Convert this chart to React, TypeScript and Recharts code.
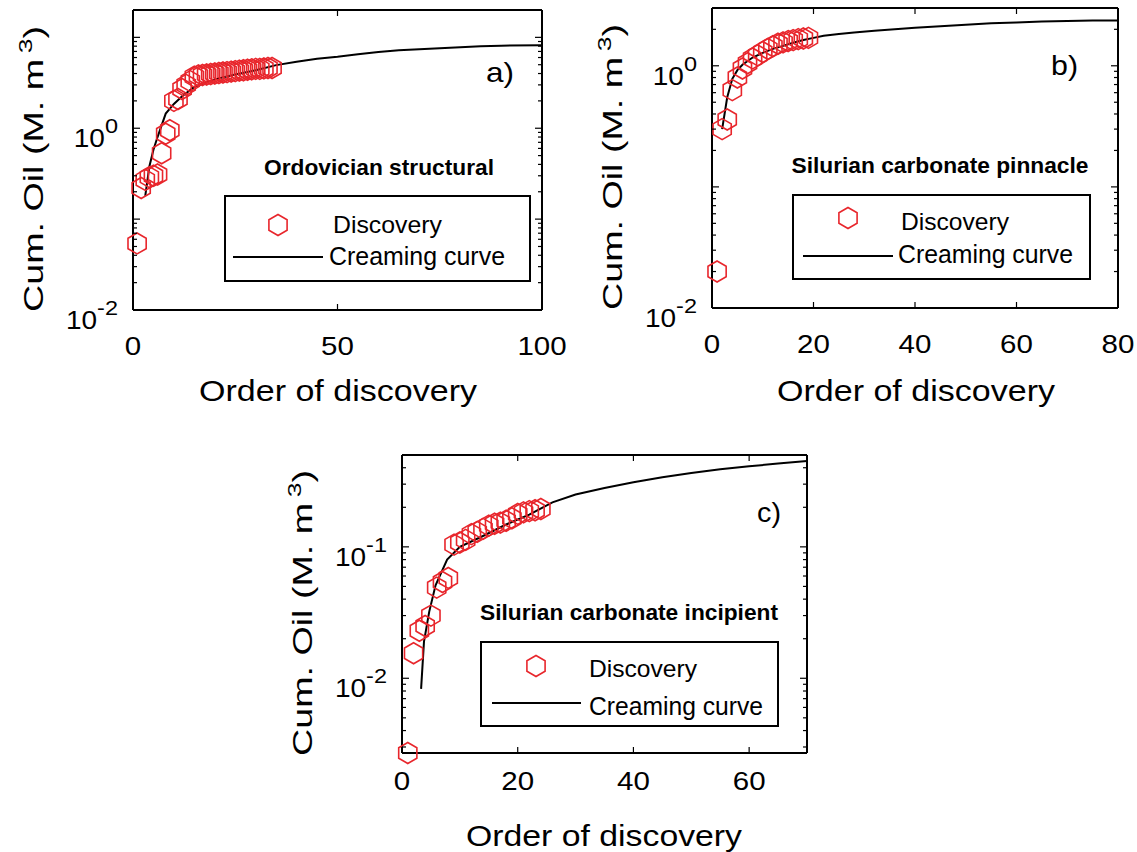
import React from 'react';
import { ComposedChart, Line, Scatter, XAxis, YAxis, Legend } from 'recharts';

const FONT = '"Liberation Sans", Arial, Helvetica, sans-serif';
const RED = '#e8262c';

// a) Ordovician structural
const ordoOrder = [1, 2, 3, 4, 5, 6, 7, 8, 9, 10, 11, 12, 13, 14, 15, 16, 17, 18, 19, 20, 21, 22, 23, 24, 25, 26, 27, 28, 29, 30, 31, 32, 33, 34];
const ordoCum = [0.054, 0.22, 0.27, 0.29, 0.3, 0.31, 0.53, 0.87, 0.95, 2.0, 2.1, 2.7, 3.0, 3.3, 3.7, 3.8, 3.85, 3.9, 3.95, 4.0, 4.05, 4.1, 4.15, 4.2, 4.25, 4.3, 4.35, 4.4, 4.45, 4.5, 4.5, 4.55, 4.6, 4.6];
const ordoCurveOrder = [3, 4, 5, 6, 8, 10, 12, 15, 20, 25, 30, 35, 40, 45, 50, 55, 60, 65, 70, 75, 80, 85, 90, 100];
const ordoCurveCum = [0.18, 0.38, 0.58, 0.8, 1.45, 1.85, 2.25, 2.85, 3.45, 3.9, 4.35, 4.95, 5.4, 5.8, 6.1, 6.5, 6.9, 7.2, 7.4, 7.6, 7.8, 8.0, 8.1, 8.2];

// b) Silurian carbonate pinnacle
const pinnOrder = [1, 2, 3, 4, 5, 6, 7, 8, 9, 10, 11, 12, 13, 14, 15, 16, 17, 18, 19];
const pinnCum = [0.02, 0.3, 0.36, 0.63, 0.8, 0.95, 1.05, 1.15, 1.22, 1.3, 1.38, 1.45, 1.52, 1.56, 1.6, 1.63, 1.66, 1.68, 1.7];
const pinnCurveOrder = [2, 3, 4, 5, 6, 8, 10, 12, 14, 16, 18, 20, 22, 25, 28, 32, 36, 40, 45, 50, 55, 60, 65, 70, 75, 80];
const pinnCurveCum = [0.3, 0.55, 0.78, 0.92, 1.02, 1.17, 1.28, 1.38, 1.46, 1.55, 1.63, 1.7, 1.77, 1.83, 1.88, 1.95, 2.0, 2.06, 2.12, 2.18, 2.24, 2.28, 2.32, 2.34, 2.36, 2.36];

// c) Silurian carbonate incipient
const incOrder = [1, 2, 3, 4, 5, 6, 7, 8, 9, 10, 11, 12, 13, 14, 15, 16, 17, 18, 19, 20, 21, 22, 23, 24];
const incCum = [0.0027, 0.0155, 0.023, 0.025, 0.03, 0.049, 0.054, 0.058, 0.104, 0.108, 0.113, 0.125, 0.13, 0.137, 0.145, 0.15, 0.153, 0.158, 0.165, 0.178, 0.183, 0.187, 0.19, 0.194];
const incCurveOrder = [3.3, 3.8, 4.7, 5.8, 7.8, 10, 14, 18, 22, 26, 30, 35, 40, 45, 50, 55, 60, 65, 70];
const incCurveCum = [0.0083, 0.019, 0.032, 0.051, 0.08, 0.1, 0.121, 0.148, 0.176, 0.218, 0.25, 0.28, 0.31, 0.338, 0.365, 0.39, 0.41, 0.43, 0.45];

const xTicksA = [0, 50, 100];
const xTicksB = [0, 20, 40, 60, 80];
const xTicksC = [0, 20, 40, 60];
const yTicksA = [0.01, 0.02, 0.03, 0.04, 0.05, 0.06, 0.07, 0.08, 0.09, 0.1, 0.2, 0.3, 0.4, 0.5, 0.6, 0.7, 0.8, 0.9, 1, 2, 3, 4, 5, 6, 7, 8, 9, 10];
const yTicksB = [0.01, 0.02, 0.03, 0.04, 0.05, 0.06, 0.07, 0.08, 0.09, 0.1, 0.2, 0.3, 0.4, 0.5, 0.6, 0.7, 0.8, 0.9, 1, 2];
const yTicksC = [0.003, 0.004, 0.005, 0.006, 0.007, 0.008, 0.009, 0.01, 0.02, 0.03, 0.04, 0.05, 0.06, 0.07, 0.08, 0.09, 0.1, 0.2, 0.3, 0.4];

const LEGEND_DISC = 'Discovery';
const LEGEND_CURVE = 'Creaming curve';

const toPts = (xs: number[], ys: number[]) => xs.map((x, i) => ({ x, y: ys[i] }));

const isDecade = (v: number) => {
  const e = Math.round(Math.log10(v));
  return { e, major: Math.abs(v / Math.pow(10, e) - 1) < 1e-6 };
};

const Hex = (props: any) => {
  const { cx, cy } = props;
  if (cx == null || cy == null) return null;
  const r = 10.5;
  const pts = [0, 1, 2, 3, 4, 5]
    .map((i) => {
      const a = -Math.PI / 2 + (i * Math.PI) / 3;
      return `${cx + r * Math.cos(a)},${cy + r * Math.sin(a)}`;
    })
    .join(' ');
  return <polygon points={pts} fill="none" stroke={RED} strokeWidth={1.6} />;
};

const BottomTick = (props: any) => {
  const { x, y, payload, off } = props;
  return (
    <g>
      <line x1={x} x2={x} y1={y} y2={y - 6} stroke="#000" strokeWidth={1.2} />
      <g transform={`translate(${x},${y + off}) scale(1.18,1)`}>
        <text textAnchor="middle" fontSize={25} fontFamily={FONT} fill="#000">
          {payload.value}
        </text>
      </g>
    </g>
  );
};

const TopTick = (props: any) => {
  const { x, y } = props;
  return <line x1={x} x2={x} y1={y} y2={y + 6} stroke="#000" strokeWidth={1.2} />;
};

const LeftTick = (props: any) => {
  const { x, y, payload, labeled } = props;
  const { e, major } = isDecade(payload.value);
  const len = major ? 7 : 4;
  return (
    <g>
      <line x1={x} x2={x + len} y1={y} y2={y} stroke="#000" strokeWidth={1.2} />
      {major && labeled.includes(e) && (
        <g transform={`translate(${x - 15},${y + 19}) scale(1.12,1)`}>
          <text textAnchor="end" fontSize={25} fontFamily={FONT} fill="#000">
            10
            <tspan dy={-14} fontSize={21}>
              {String(e)}
            </tspan>
          </text>
        </g>
      )}
    </g>
  );
};

const RightTick = (props: any) => {
  const { x, y, payload } = props;
  const { major } = isDecade(payload.value);
  const len = major ? 7 : 4;
  return <line x1={x} x2={x - len} y1={y} y2={y} stroke="#000" strokeWidth={1.2} />;
};

type Box = {
  x: number; y: number; w: number; h: number;
  mark: [number, number];
  disc: [number, number, number];
  line: [number, number, number];
  cream: [number, number, number];
};

type OverlayCfg = {
  yLabel: [number, number, number];
  xLabel: [number, number, number];
  title: [number, number, number, string];
  tag: [number, number, number, string];
  box: Box;
};

const Stretch = ({ x, y, w, size, weight, anchor, children }: any) => (
  <text
    x={x}
    y={y}
    fontSize={size}
    fontWeight={weight}
    textAnchor={anchor || 'start'}
    textLength={w}
    lengthAdjust="spacingAndGlyphs"
    fontFamily={FONT}
    fill="#000"
  >
    {children}
  </text>
);

const Overlay = ({ o, w, h }: { o: OverlayCfg; w: number; h: number }) => {
  const b = o.box;
  const [lx, ly, llen] = o.yLabel;
  return (
    <svg width={w} height={h} style={{ position: 'absolute', left: 0, top: 0, overflow: 'visible' }}>
      <text
        transform={`rotate(-90 ${lx} ${ly})`}
        x={lx}
        y={ly}
        fontSize={27}
        fontFamily={FONT}
        fill="#000"
        textLength={llen}
        lengthAdjust="spacingAndGlyphs"
      >
        Cum. Oil (M. m
        <tspan dx={4} dy={-11} fontSize={19}>
          3
        </tspan>
        <tspan dy={11}>)</tspan>
      </text>
      <Stretch x={o.xLabel[0]} y={o.xLabel[1]} w={o.xLabel[2]} size={30} anchor="middle">
        Order of discovery
      </Stretch>
      <Stretch x={o.title[0]} y={o.title[1]} w={o.title[2]} size={22} weight="bold" anchor="middle">
        {o.title[3]}
      </Stretch>
      <Stretch x={o.tag[0]} y={o.tag[1]} w={o.tag[2]} size={28}>
        {o.tag[3]}
      </Stretch>
      <g transform={`translate(${b.x},${b.y})`}>
        <rect x={0} y={0} width={b.w} height={b.h} fill="#fff" stroke="#000" strokeWidth={2} />
        <Hex cx={b.mark[0]} cy={b.mark[1]} />
        <Stretch x={b.disc[0]} y={b.disc[1]} w={b.disc[2]} size={24}>
          {LEGEND_DISC}
        </Stretch>
        <line x1={b.line[0]} x2={b.line[1]} y1={b.line[2]} y2={b.line[2]} stroke="#000" strokeWidth={2} />
        <Stretch x={b.cream[0]} y={b.cream[1]} w={b.cream[2]} size={25}>
          {LEGEND_CURVE}
        </Stretch>
      </g>
    </svg>
  );
};

type PanelProps = {
  left: number; top: number; width: number; height: number;
  margin: { top: number; right: number; bottom: number; left: number };
  yAxisWidth: number; xAxisHeight: number;
  xDomain: [number, number]; xTicks: number[]; tickOff: number;
  yDomain: [number, number]; yTicks: number[]; yLabeled: number[];
  disc: { x: number; y: number }[]; curve: { x: number; y: number }[];
  overlay: OverlayCfg;
};

const Panel = (p: PanelProps) => {
  const axisLine = { stroke: '#000', strokeWidth: 2 };
  return (
    <div style={{ position: 'absolute', left: p.left, top: p.top, width: p.width, height: p.height }}>
      <ComposedChart width={p.width} height={p.height} margin={p.margin}>
        <XAxis
          dataKey="x"
          type="number"
          domain={p.xDomain}
          ticks={p.xTicks}
          interval={0}
          height={p.xAxisHeight}
          axisLine={axisLine}
          tickLine={false}
          tickSize={0}
          tickMargin={0}
          tick={(t: any) => <BottomTick {...t} off={p.tickOff} />}
        />
        <XAxis
          xAxisId="top"
          orientation="top"
          dataKey="x"
          type="number"
          domain={p.xDomain}
          ticks={p.xTicks}
          interval={0}
          height={1}
          axisLine={axisLine}
          tickLine={false}
          tickSize={0}
          tickMargin={0}
          tick={(t: any) => <TopTick {...t} />}
        />
        <YAxis
          dataKey="y"
          type="number"
          scale="log"
          domain={p.yDomain}
          ticks={p.yTicks}
          interval={0}
          width={p.yAxisWidth}
          axisLine={axisLine}
          tickLine={false}
          tickSize={0}
          tickMargin={0}
          tick={(t: any) => <LeftTick {...t} labeled={p.yLabeled} />}
        />
        <YAxis
          yAxisId="right"
          orientation="right"
          dataKey="y"
          type="number"
          scale="log"
          domain={p.yDomain}
          ticks={p.yTicks}
          interval={0}
          width={1}
          axisLine={axisLine}
          tickLine={false}
          tickSize={0}
          tickMargin={0}
          tick={(t: any) => <RightTick {...t} />}
        />
        <Line
          data={p.curve}
          xAxisId="top"
          yAxisId="right"
          dataKey="y"
          stroke="none"
          dot={false}
          legendType="none"
          isAnimationActive={false}
        />
        <Line
          data={p.curve}
          dataKey="y"
          name={LEGEND_CURVE}
          type="linear"
          stroke="#000"
          strokeWidth={2}
          dot={false}
          isAnimationActive={false}
        />
        <Scatter data={p.disc} dataKey="y" name={LEGEND_DISC} shape={<Hex />} isAnimationActive={false} />
        <Legend
          layout="vertical"
          align="center"
          verticalAlign="middle"
          wrapperStyle={{ left: 0, top: 0, width: p.width, height: p.height, pointerEvents: 'none' }}
          content={() => <Overlay o={p.overlay} w={p.width} h={p.height} />}
        />
      </ComposedChart>
    </div>
  );
};

export default function App() {
  return (
    <div style={{ position: 'absolute', left: 0, top: 0, width: 1137, height: 852, background: '#fff' }}>
      <Panel
        left={0}
        top={0}
        width={575}
        height={420}
        margin={{ top: 9, right: 32, bottom: 0, left: 0 }}
        yAxisWidth={133}
        xAxisHeight={110}
        xDomain={[0, 100]}
        xTicks={xTicksA}
        tickOff={45}
        yDomain={[0.01, 20]}
        yTicks={yTicksA}
        yLabeled={[-2, 0]}
        disc={toPts(ordoOrder, ordoCum)}
        curve={toPts(ordoCurveOrder, ordoCurveCum)}
        overlay={{
          yLabel: [43, 312, 286],
          xLabel: [338, 401, 278],
          title: [379, 175, 230, 'Ordovician structural'],
          tag: [486, 82, 28, 'a)'],
          box: { x: 225, y: 196, w: 305, h: 85, mark: [53, 29], disc: [108, 37, 109], line: [8, 98, 61], cream: [104, 69, 176] },
        }}
      />
      <Panel
        left={570}
        top={0}
        width={567}
        height={420}
        margin={{ top: 7, right: 18, bottom: 0, left: 0 }}
        yAxisWidth={142}
        xAxisHeight={112}
        xDomain={[0, 80]}
        xTicks={xTicksB}
        tickOff={45}
        yDomain={[0.01, 3]}
        yTicks={yTicksB}
        yLabeled={[-2, 0]}
        disc={toPts(pinnOrder, pinnCum)}
        curve={toPts(pinnCurveOrder, pinnCurveCum)}
        overlay={{
          yLabel: [52, 310, 286],
          xLabel: [346, 401, 278],
          title: [370, 173, 297, 'Silurian carbonate pinnacle'],
          tag: [481, 75, 27, 'b)'],
          box: { x: 223, y: 195, w: 297, h: 84, mark: [55, 23], disc: [108, 35, 108], line: [10, 100, 61], cream: [105, 68, 175] },
        }}
      />
      <Panel
        left={270}
        top={440}
        width={560}
        height={412}
        margin={{ top: 14, right: 22, bottom: 0, left: 0 }}
        yAxisWidth={132}
        xAxisHeight={99}
        xDomain={[0, 70]}
        xTicks={xTicksC}
        tickOff={37}
        yDomain={[0.0027, 0.5]}
        yTicks={yTicksC}
        yLabeled={[-2, -1]}
        disc={toPts(incOrder, incCum)}
        curve={toPts(incCurveOrder, incCurveCum)}
        overlay={{
          yLabel: [42, 316, 286],
          xLabel: [334, 406, 276],
          title: [359, 180, 298, 'Silurian carbonate incipient'],
          tag: [487, 82, 24, 'c)'],
          box: { x: 211, y: 202, w: 297, h: 84, mark: [55, 24], disc: [108, 35, 108], line: [11, 100, 61], cream: [108, 73, 174] },
        }}
      />
    </div>
  );
}
